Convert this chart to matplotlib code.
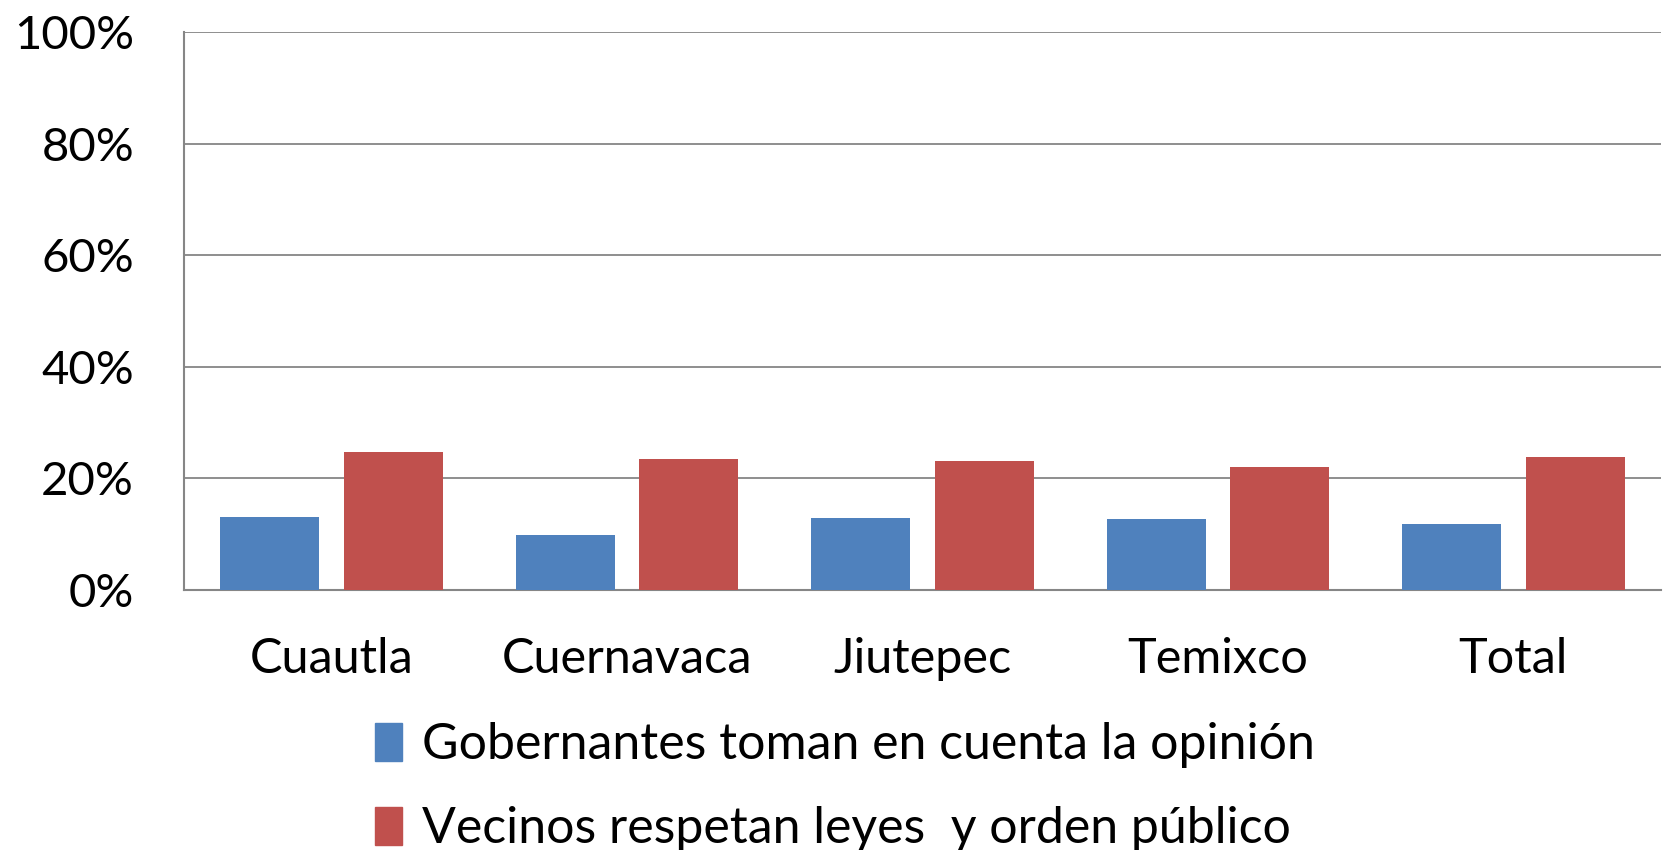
import numpy as np
import matplotlib.pyplot as plt
from matplotlib.patches import Patch
from matplotlib.ticker import PercentFormatter

plt.rcParams['font.family'] = ['Lato', 'DejaVu Sans']

categories = ['Cuautla', 'Cuernavaca', 'Jiutepec', 'Temixco', 'Total']
gobernantes = [13.1, 9.9, 12.9, 12.7, 11.8]
vecinos = [24.7, 23.5, 23.2, 22.1, 23.8]
series_labels = ['Gobernantes toman en cuenta la opinión',
                 'Vecinos respetan leyes  y orden público']

blue = '#4f81bd'
red = '#c0504d'
grid = '#868686'

fig = plt.figure(figsize=(16.67, 8.5), dpi=100)
ax = fig.add_axes([184 / 1667, 1 - 590 / 850, (1661 - 184) / 1667, (590 - 32) / 850])

x = np.arange(len(categories))
w = 0.335
ax.bar(x - 0.209, gobernantes, w, color=blue, zorder=3)
ax.bar(x + 0.209, vecinos, w, color=red, zorder=3)

ax.set_xlim(-0.5, len(categories) - 0.5)
ax.set_ylim(0, 100)
ax.set_yticks(range(0, 101, 20))
ax.yaxis.set_major_formatter(PercentFormatter(decimals=0))
ax.set_xticks(x)
ax.set_xticklabels(categories)
ax.grid(axis='y', color=grid, linewidth=1.3, zorder=0)
ax.tick_params(axis='y', length=0, pad=36, labelsize=34)
ax.tick_params(axis='x', length=0, pad=34, labelsize=35)
for s in ['top', 'right']:
    ax.spines[s].set_visible(False)
for s in ['left', 'bottom']:
    ax.spines[s].set_color(grid)
    ax.spines[s].set_linewidth(1.5)

handles = [Patch(color=blue), Patch(color=red)]
fig.legend(handles, series_labels, loc='center', bbox_to_anchor=(845 / 1667, 1 - 787 / 850),
           frameon=False, fontsize=36, handlelength=0.55, handleheight=0.8,
           handletextpad=0.4, labelspacing=0.76)

fig.savefig('out.png', dpi=100)
